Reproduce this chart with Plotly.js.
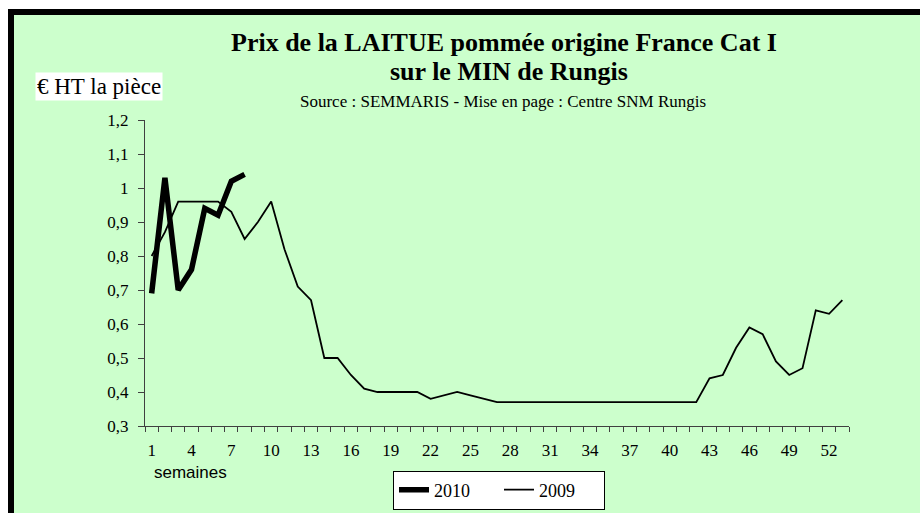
<!DOCTYPE html>
<html>
<head>
<meta charset="utf-8">
<script src="https://cdn.plot.ly/plotly-3.0.1.min.js"></script>
<style>
  html, body { margin: 0; padding: 0; background: #ffffff; }
  #chart { width: 920px; height: 513px; }
</style>
</head>
<body>
<div id="chart"></div>
<script>
// ---- Data ----
const weeks = [];
for (let w = 1; w <= 53; w++) weeks.push(w);

const weeks2010 = [1, 2, 3, 4, 5, 6, 7, 8];
const price2010 = [0.69, 1.03, 0.70, 0.76, 0.94, 0.92, 1.02, 1.04];

const price2009 = [
  0.80, 0.87, 0.96, 0.96, 0.96, 0.96, 0.93, 0.85, 0.90, 0.96,
  0.82, 0.71, 0.67, 0.50, 0.50, 0.45, 0.41, 0.40, 0.40, 0.40,
  0.40, 0.38, 0.39, 0.40, 0.39, 0.38, 0.37, 0.37, 0.37, 0.37,
  0.37, 0.37, 0.37, 0.37, 0.37, 0.37, 0.37, 0.37, 0.37, 0.37,
  0.37, 0.37, 0.44, 0.45, 0.53, 0.59, 0.57, 0.49, 0.45, 0.47,
  0.64, 0.63, 0.67
];

const xTickVals = [1, 4, 7, 10, 13, 16, 19, 22, 25, 28, 31, 34, 37, 40, 43, 46, 49, 52];

// ---- Layout geometry ----
const W = 920, H = 513;
const mL = 145, mR = 71, mT = 120, mB = 87;
const pw = W - mL - mR, ph = H - mT - mB;
const px = x => (x - mL) / pw;
const py = y => (H - mB - y) / ph;

const boundaries = [];
for (let i = 0; i <= weeks.length; i++) boundaries.push(weeks[0] - 0.5 + i);

const serif = "'Liberation Serif', 'Times New Roman', serif";
const sans = "'Liberation Sans', Arial, sans-serif";

const traces = [
  {
    x: weeks, y: price2009, name: '2009', type: 'scatter', mode: 'lines',
    line: { color: '#000000', width: 1.8 }
  },
  {
    x: weeks2010, y: price2010, name: '2010', type: 'scatter', mode: 'lines',
    line: { color: '#000000', width: 5.5 }
  }
];

const layout = {
  width: W, height: H,
  margin: { l: mL, r: mR, t: mT, b: mB, pad: 0, autoexpand: false },
  paper_bgcolor: '#ffffff',
  plot_bgcolor: 'rgba(0,0,0,0)',
  separators: ', ',
  showlegend: true,
  legend: {
    orientation: 'h', traceorder: 'reversed',
    xref: 'container', yref: 'container',
    x: 393 / W, xanchor: 'left', y: 1 - 490 / H, yanchor: 'middle',
    bgcolor: '#ffffff', bordercolor: '#000000', borderwidth: 1,
    font: { family: serif, size: 18, color: '#000000' },
    itemwidth: 30, tracegroupgap: 0, entrywidth: 60, valign: 'middle'
  },
  xaxis: {
    range: [0.5, 53.5], showgrid: false, zeroline: false,
    showline: true, linecolor: '#404040', linewidth: 1,
    tickmode: 'array', tickvals: xTickVals,
    ticks: 'outside', ticklen: 9, tickcolor: 'rgba(0,0,0,0)',
    tickfont: { family: serif, size: 17, color: '#000000' },
    minor: { tickmode: 'array', tickvals: boundaries, ticks: 'outside', ticklen: 5, tickcolor: '#404040', showgrid: false },
    fixedrange: true
  },
  yaxis: {
    range: [0.3, 1.2], showgrid: false, zeroline: false,
    showline: true, linecolor: '#404040', linewidth: 1,
    tickmode: 'linear', tick0: 0.3, dtick: 0.1,
    ticks: 'outside', ticklen: 6, tickcolor: '#404040', ticklabelstandoff: 6,
    tickfont: { family: serif, size: 17, color: '#000000' },
    fixedrange: true
  },
  shapes: [
    { type: 'rect', xref: 'paper', yref: 'paper', layer: 'below',
      x0: px(8), x1: px(940), y0: py(540), y1: py(9),
      fillcolor: '#000000', line: { width: 0 } },
    { type: 'rect', xref: 'paper', yref: 'paper', layer: 'below',
      x0: px(14), x1: px(940), y0: py(540), y1: py(15),
      fillcolor: '#CCFFCC', line: { width: 0 } }
  ],
  annotations: [
    { xref: 'paper', yref: 'paper', x: px(504), y: py(42), xanchor: 'center', yanchor: 'middle',
      text: '<b>Prix de la LAITUE pommée origine France Cat I</b>', showarrow: false,
      font: { family: serif, size: 26, color: '#000000' } },
    { xref: 'paper', yref: 'paper', x: px(509), y: py(72), xanchor: 'center', yanchor: 'middle',
      text: '<b>sur le MIN de Rungis</b>', showarrow: false,
      font: { family: serif, size: 26, color: '#000000' } },
    { xref: 'paper', yref: 'paper', x: px(503), y: py(101), xanchor: 'center', yanchor: 'middle',
      text: 'Source : SEMMARIS - Mise en page : Centre SNM Rungis', showarrow: false,
      font: { family: serif, size: 17, color: '#000000' } },
    { xref: 'paper', yref: 'paper', x: px(99), y: py(87), xanchor: 'center', yanchor: 'middle',
      text: '€ HT la pièce', showarrow: false, bgcolor: '#ffffff', borderpad: 1,
      font: { family: serif, size: 23, color: '#000000' } },
    { xref: 'paper', yref: 'paper', x: px(152), y: py(473), xanchor: 'left', yanchor: 'middle',
      text: 'semaines', showarrow: false,
      font: { family: sans, size: 17, color: '#000000' } }
  ]
};

Plotly.newPlot('chart', traces, layout, { displayModeBar: false, staticPlot: true });
</script>
</body>
</html>
